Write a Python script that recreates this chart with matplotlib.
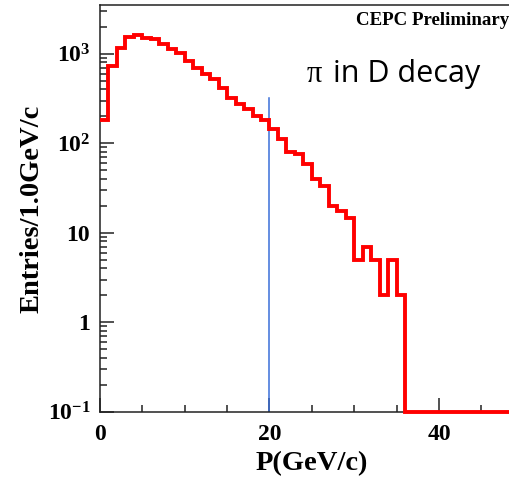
import numpy as np
import matplotlib
matplotlib.use("Agg")
import matplotlib.pyplot as plt
from matplotlib.ticker import FixedLocator, FixedFormatter, LogLocator, NullFormatter, MultipleLocator

# bin contents, 1 GeV/c bins from 0 to 50
bin_edges = np.arange(0, 51, 1)
counts = [181, 733, 1170, 1545, 1610, 1490, 1480, 1276, 1122, 1031,
          834, 702, 590, 519, 419, 324, 278, 240, 202, 181,
          143, 113, 79, 75, 58, 40, 33, 20, 17.5, 14.7,
          5, 7, 5, 2, 5, 2, 0, 0, 0, 0,
          0, 0, 0, 0, 0, 0, 0, 0, 0, 0]
cut_x = 20
cut_top = 324
ytick_vals = [0.1, 1, 10, 100, 1000]
ytick_labels = [r"$10^{-1}$", "1", "10", r"$10^{2}$", r"$10^{3}$"]
xtick_vals = [0, 20, 40]

plt.rcParams["mathtext.fontset"] = "custom"
plt.rcParams["mathtext.rm"] = "Liberation Serif:bold"
plt.rcParams["mathtext.bf"] = "Liberation Serif:bold"
plt.rcParams["mathtext.it"] = "Liberation Serif:bold"

ymin, ymax = 0.1, 3500

fig = plt.figure(figsize=(5.1, 4.8), dpi=100)
ax = fig.add_axes([0.196, 0.1423, 0.831, 0.847])

# empty bins are drawn on the bottom of the frame, like ROOT does
vals = np.maximum(np.array(counts, dtype=float), ymin)
ax.stairs(vals, bin_edges, baseline=None, color="#ff0000", lw=2.8, clip_on=False, zorder=3)
ax.plot([cut_x, cut_x], [ymin, cut_top], color="#3a6fd8", lw=1.1, zorder=2)

ax.set_yscale("log")
ax.set_xlim(0, 50)
ax.set_ylim(ymin, ymax)

ax.yaxis.set_major_locator(FixedLocator(ytick_vals))
ax.yaxis.set_major_formatter(FixedFormatter(ytick_labels))
ax.yaxis.set_minor_locator(LogLocator(base=10, subs=np.arange(2, 10)))
ax.yaxis.set_minor_formatter(NullFormatter())
ax.xaxis.set_major_locator(FixedLocator(xtick_vals))
ax.xaxis.set_minor_locator(MultipleLocator(5))

ax.tick_params(which="both", direction="in", width=1.1, colors="#222222")
ax.tick_params(which="major", length=10, labelsize=17, pad=7)
ax.tick_params(which="minor", length=5)
ax.tick_params(axis="x", which="major", pad=9)
for lab in ax.get_xticklabels() + ax.get_yticklabels():
    lab.set_fontfamily("Liberation Serif")
    lab.set_fontweight("bold")
    lab.set_color("black")

for s in ax.spines.values():
    s.set_linewidth(1.1)
    s.set_color("#222222")

ax.set_xlabel("P(GeV/c)", fontfamily="Liberation Serif", fontweight="bold", fontsize=20.5, labelpad=4)
ax.set_ylabel("Entries/1.0GeV/c", fontfamily="Liberation Serif", fontweight="bold", fontsize=20.5, labelpad=2)

fig.text(0.699, 0.957, "CEPC Preliminary", fontfamily="Liberation Serif", fontweight="bold",
         fontsize=13.6, va="center", ha="left")
fig.text(0.602, 0.830, "\u03c0", fontfamily="Liberation Serif", fontsize=22, va="baseline", ha="left")
fig.text(0.653, 0.830, "in D decay", fontfamily="Open Sans", fontsize=22, va="baseline", ha="left")

fig.savefig("out.png", dpi=100)
